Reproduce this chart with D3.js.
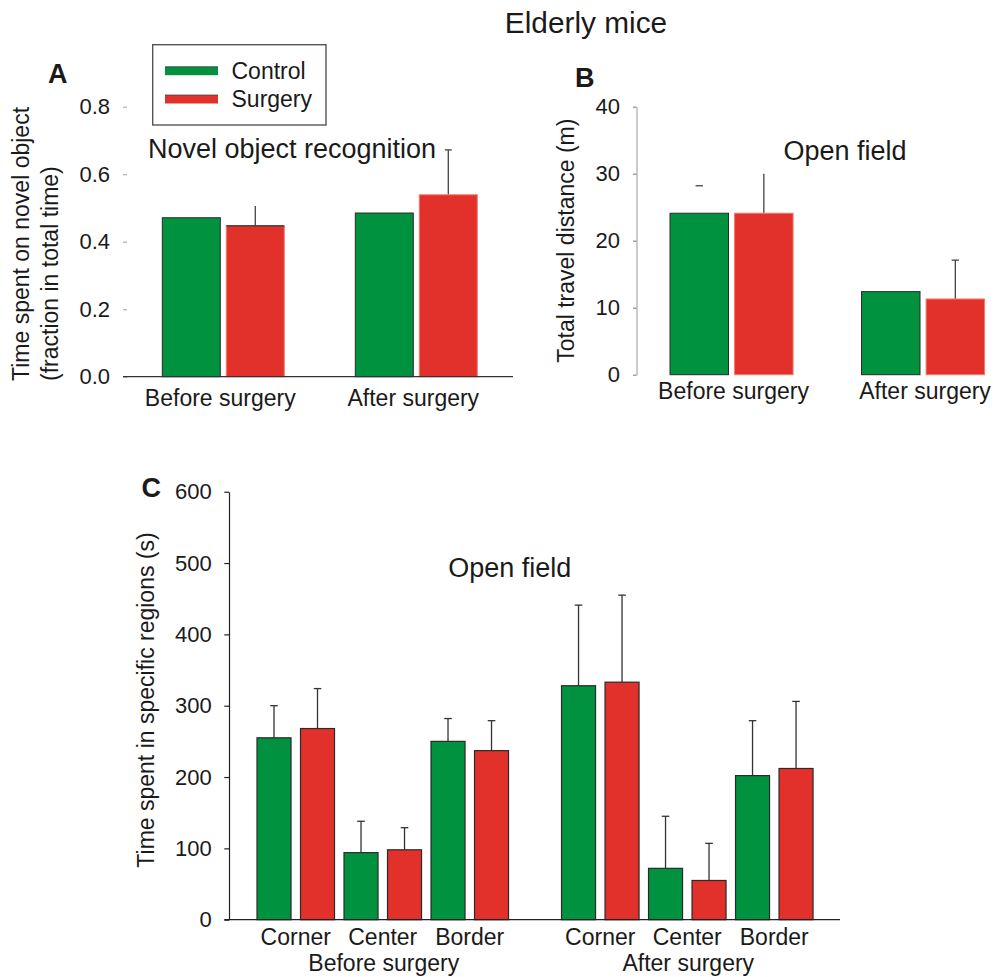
<!DOCTYPE html>
<html><head><meta charset="utf-8">
<script src="https://cdn.jsdelivr.net/npm/d3@7"></script>
<style>
body{margin:0;background:#fff}
text{font-family:"Liberation Sans",Arial,sans-serif;fill:#1a1a1a}
</style>
</head><body>
<svg id="chart" width="996" height="977"></svg>
<script>
// ---------- data ----------
const series = ["Control", "Surgery"];
const phases = ["Before surgery", "After surgery"];
const regions = ["Corner", "Center", "Border"];

// Panel A: novel object recognition (fraction)
const novelControl = [0.471, 0.485];
const novelControlSem = [null, null];
const novelSurgery = [0.447, 0.539];
const novelSurgerySem = [0.059, 0.133];
const ticksA = [0, 0.2, 0.4, 0.6, 0.8];
const tickLabelsA = ["0.0", "0.2", "0.4", "0.6", "0.8"];

// Panel B: total travel distance (m)
const distControl = [24.1, 12.4];
const distControlSem = [4.1, null];
const distSurgery = [24.1, 11.3];
const distSurgerySem = [5.9, 5.8];
const ticksB = [0, 10, 20, 30, 40];
const tickLabelsB = ["0", "10", "20", "30", "40"];

// Panel C: time spent in specific regions (s)
const regionBeforeControl = [255, 94, 250];
const regionBeforeControlSem = [45, 44, 32];
const regionBeforeSurgery = [268, 98, 237];
const regionBeforeSurgerySem = [56, 31, 42];
const regionAfterControl = [328, 72, 202];
const regionAfterControlSem = [113, 73, 77];
const regionAfterSurgery = [333, 55, 212];
const regionAfterSurgerySem = [122, 52, 94];
const ticksC = [0, 100, 200, 300, 400, 500, 600];
const tickLabelsC = ["0", "100", "200", "300", "400", "500", "600"];

// ---------- style ----------
const color = d3.scaleOrdinal().domain(series).range(["#00923f", "#e2312b"]);
const svg = d3.select("#chart");
const FONT_TICK = 22, FONT_LAB = 23, FONT_SUB = 27;

function styleAxis(g, tickColor, domainColor) {
  g.selectAll("text").style("font-size", FONT_TICK + "px").attr("fill", "#1a1a1a")
    .style("font-family", '"Liberation Sans",Arial,sans-serif');
  g.selectAll(".tick line").attr("stroke", tickColor).attr("stroke-width", 1.2);
  g.select(".domain").attr("stroke", domainColor).attr("stroke-width", 1.2);
}

// ---------- title ----------
svg.append("text").attr("x", 586).attr("y", 33).attr("text-anchor", "middle")
  .style("font-size", "29.8px").text("Elderly mice");

// ---------- Panel A ----------
{
  const y = d3.scaleLinear().domain([0, 0.8]).range([376.7, 106.7]);
  const x0 = d3.scaleBand().domain(phases).range([126.8, 512.8]);
  const x1 = d3.scaleBand().domain(series).range([0, x0.bandwidth()])
    .paddingInner(0.094).paddingOuter(0.555);
  const ax = svg.append("g").attr("transform", "translate(127,0)")
    .call(d3.axisLeft(y).tickValues(ticksA).tickFormat((d, i) => tickLabelsA[i])
      .tickSize(4).tickSizeOuter(0).tickPadding(13));
  styleAxis(ax, "#b0b0b0", "none");
  ax.select(".domain").remove();

  const vals = {Control: novelControl, Surgery: novelSurgery};
  const sems = {Control: novelControlSem, Surgery: novelSurgerySem};
  phases.forEach((p, i) => {
    series.forEach(s => {
      const v = vals[s][i], e = sems[s][i];
      const bx = x0(p) + x1(s), bw = x1.bandwidth();
      const cx = bx + bw / 2;
      if (e != null) {
        svg.append("line").attr("x1", cx).attr("x2", cx).attr("y1", y(v)).attr("y2", y(v + e))
          .attr("stroke", "#444").attr("stroke-width", 1.3);
        if (i === 1) svg.append("line").attr("x1", cx - 3.5).attr("x2", cx + 3.5)
          .attr("y1", y(v + e)).attr("y2", y(v + e)).attr("stroke", "#444").attr("stroke-width", 1.3);
      }
      svg.append("rect").attr("x", bx).attr("y", y(v)).attr("width", bw).attr("height", y(0) - y(v))
        .attr("fill", color(s))
        .attr("stroke", s === "Control" ? "#2a2a2a" : "#ef7a70").attr("stroke-width", 1);
      if (s === "Surgery" && i === 0)
        svg.append("line").attr("x1", bx).attr("x2", bx + bw).attr("y1", y(v)).attr("y2", y(v))
          .attr("stroke", "#2a2a2a").attr("stroke-width", 1.2);
    });
    svg.append("text").attr("x", x0(p) + x0.bandwidth() / 2 - 3).attr("y", 406)
      .attr("text-anchor", "middle").style("font-size", FONT_LAB + "px").text(p);
  });
  svg.append("line").attr("x1", 123).attr("x2", 513).attr("y1", y(0)).attr("y2", y(0))
    .attr("stroke", "#333").attr("stroke-width", 1.3);

  svg.append("text").attr("x", 292).attr("y", 158).attr("text-anchor", "middle")
    .style("font-size", FONT_SUB + "px").text("Novel object recognition");

  svg.append("text").attr("transform", "translate(29,381) rotate(-90)")
    .style("font-size", FONT_LAB + "px").text("Time spent on novel object");
  svg.append("text").attr("transform", "translate(58,381) rotate(-90)")
    .style("font-size", FONT_LAB + "px").text("(fraction in total time)");

  svg.append("text").attr("x", 48).attr("y", 83).style("font-size", "27px")
    .style("font-weight", "bold").attr("fill", "#111").text("A");

  // legend
  svg.append("rect").attr("x", 152.7).attr("y", 44.7).attr("width", 173.3).attr("height", 80.3)
    .attr("fill", "none").attr("stroke", "#555").attr("stroke-width", 1.4);
  series.forEach((s, i) => {
    const cy = 71 + i * 28.3;
    svg.append("rect").attr("x", 165).attr("y", cy - 4.2).attr("width", 53).attr("height", 8.4)
      .attr("fill", color(s));
    svg.append("line").attr("x1", 165).attr("x2", 218).attr("y1", cy - 4.2).attr("y2", cy - 4.2)
      .attr("stroke", "#333").attr("stroke-width", 0.8);
    svg.append("text").attr("x", 231.5).attr("y", cy + 8).style("font-size", FONT_LAB + "px").text(s);
  });
}

// ---------- Panel B ----------
{
  const y = d3.scaleLinear().domain([0, 40]).range([374.7, 106.7]);
  const x0 = d3.scaleBand().domain(phases).range([635.8, 1018.8]);
  const x1 = d3.scaleBand().domain(series).range([0, x0.bandwidth()])
    .paddingInner(0.094).paddingOuter(0.53);
  const ax = svg.append("g").attr("transform", "translate(636.5,0)")
    .call(d3.axisLeft(y).tickValues(ticksB).tickFormat((d, i) => tickLabelsB[i])
      .tickSize(3.5).tickSizeOuter(0).tickPadding(13));
  styleAxis(ax, "#888", "#a8a8a8");

  const vals = {Control: distControl, Surgery: distSurgery};
  const sems = {Control: distControlSem, Surgery: distSurgerySem};
  phases.forEach((p, i) => {
    series.forEach(s => {
      const v = vals[s][i], e = sems[s][i];
      const bx = x0(p) + x1(s), bw = x1.bandwidth();
      const cx = bx + bw / 2;
      if (e != null) {
        const onlyCap = (s === "Control");
        if (!onlyCap) svg.append("line").attr("x1", cx).attr("x2", cx).attr("y1", y(v)).attr("y2", y(v + e))
          .attr("stroke", "#444").attr("stroke-width", 1.3);
        if (i === 1 || onlyCap) svg.append("line").attr("x1", cx - 3.7).attr("x2", cx + 3.7)
          .attr("y1", y(v + e)).attr("y2", y(v + e)).attr("stroke", "#444").attr("stroke-width", 1.3);
      }
      svg.append("rect").attr("x", bx).attr("y", y(v)).attr("width", bw).attr("height", y(0) - y(v))
        .attr("fill", color(s))
        .attr("stroke", s === "Control" ? "#2a2a2a" : "#ef7a70").attr("stroke-width", 1);
    });
    svg.append("text").attr("x", x0(p) + x0.bandwidth() / 2 + 2).attr("y", 399)
      .attr("text-anchor", "middle").style("font-size", FONT_LAB + "px").text(p);
  });

  svg.append("text").attr("x", 845).attr("y", 160).attr("text-anchor", "middle")
    .style("font-size", FONT_SUB + "px").text("Open field");
  svg.append("text").attr("transform", `translate(573.5,${(y(0) + y(40)) / 2}) rotate(-90)`)
    .attr("text-anchor", "middle").style("font-size", FONT_LAB + "px").text("Total travel distance (m)");
  svg.append("text").attr("x", 575).attr("y", 87).style("font-size", "27px")
    .style("font-weight", "bold").attr("fill", "#111").text("B");
}

// ---------- Panel C ----------
{
  const y = d3.scaleLinear().domain([0, 600]).range([919.7, 491.7]);
  const slots = [];
  phases.forEach((p, pi) => {
    regions.forEach(r => series.forEach(s => slots.push(p + "|" + r + "|" + s)));
    if (pi === 0) slots.push("gap");
  });
  const x = d3.scaleBand().domain(slots).range([235.25, 834.8]).paddingInner(0.218).paddingOuter(0.5);

  const ax = svg.append("g").attr("transform", "translate(229,0)")
    .call(d3.axisLeft(y).tickValues(ticksC).tickFormat((d, i) => tickLabelsC[i])
      .tickSize(4.7).tickSizeOuter(0).tickPadding(12.6));
  styleAxis(ax, "#222", "#222");

  const vals = {
    "Before surgery": {Control: regionBeforeControl, Surgery: regionBeforeSurgery},
    "After surgery": {Control: regionAfterControl, Surgery: regionAfterSurgery}
  };
  const sems = {
    "Before surgery": {Control: regionBeforeControlSem, Surgery: regionBeforeSurgerySem},
    "After surgery": {Control: regionAfterControlSem, Surgery: regionAfterSurgerySem}
  };
  phases.forEach(p => {
    regions.forEach((r, ri) => {
      series.forEach(s => {
        const key = p + "|" + r + "|" + s;
        const v = vals[p][s][ri], e = sems[p][s][ri];
        const bx = x(key), bw = x.bandwidth(), cx = bx + bw / 2;
        svg.append("line").attr("x1", cx).attr("x2", cx).attr("y1", y(v)).attr("y2", y(v + e))
          .attr("stroke", "#333").attr("stroke-width", 1.3);
        svg.append("line").attr("x1", cx - 3.8).attr("x2", cx + 3.8).attr("y1", y(v + e)).attr("y2", y(v + e))
          .attr("stroke", "#333").attr("stroke-width", 1.3);
        svg.append("rect").attr("x", bx).attr("y", y(v)).attr("width", bw).attr("height", y(0) - y(v))
          .attr("fill", color(s)).attr("stroke", "#2a2a2a").attr("stroke-width", 1.2);
      });
      const c = (x(p + "|" + r + "|Control") + x(p + "|" + r + "|Surgery") + x.bandwidth()) / 2;
      svg.append("text").attr("x", c).attr("y", 945).attr("text-anchor", "middle")
        .style("font-size", FONT_LAB + "px").text(r);
    });
    const gc = (x(p + "|Corner|Control") + x(p + "|Border|Surgery") + x.bandwidth()) / 2;
    svg.append("text").attr("x", gc + 1).attr("y", 971).attr("text-anchor", "middle")
      .style("font-size", FONT_LAB + "px").text(p);
  });
  svg.append("line").attr("x1", 224.3).attr("x2", 840).attr("y1", y(0)).attr("y2", y(0))
    .attr("stroke", "#222").attr("stroke-width", 1.3);

  svg.append("text").attr("x", 509.7).attr("y", 577.3).attr("text-anchor", "middle")
    .style("font-size", FONT_SUB + "px").text("Open field");
  svg.append("text").attr("transform", "translate(153.5,700) rotate(-90)")
    .attr("text-anchor", "middle").style("font-size", FONT_LAB + "px").text("Time spent in specific regions (s)");
  svg.append("text").attr("x", 141.5).attr("y", 496.7).style("font-size", "27px")
    .style("font-weight", "bold").attr("fill", "#111").text("C");
}
</script>
</body></html>
